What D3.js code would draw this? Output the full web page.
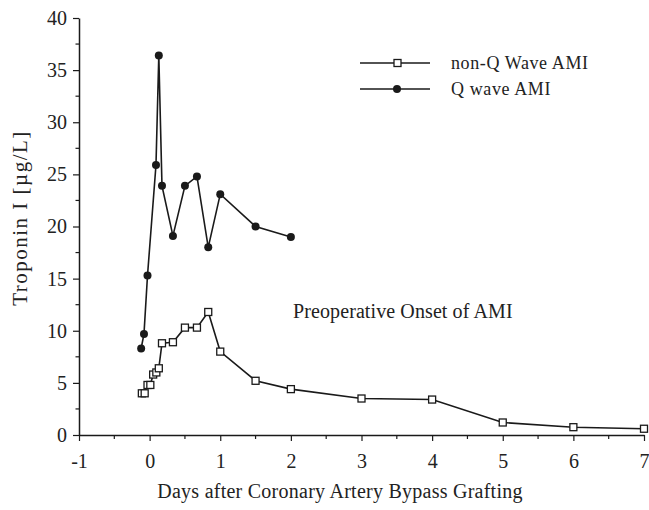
<!DOCTYPE html>
<html><head><meta charset="utf-8">
<script src="https://cdn.jsdelivr.net/npm/d3@7"></script>
<style>body{margin:0;background:#fff}svg{display:block}text{font-family:"Liberation Serif","Times New Roman",serif;fill:#222}</style>
</head><body><svg id="c" width="649" height="510"></svg>
<script>
const qDays = [-0.12,-0.08,-0.03,0.09,0.13,0.175,0.33,0.5,0.67,0.83,1.0,1.5,2.0];
const qValues = [8.3,9.7,15.3,25.9,36.4,23.9,19.1,23.9,24.8,18.0,23.1,20.0,19.0];
const nqDays = [-0.11,-0.07,-0.03,0.01,0.05,0.095,0.13,0.175,0.33,0.5,0.67,0.83,1.0,1.5,2.0,3.0,4.0,5.0,6.0,7.0];
const nqValues = [4.0,4.0,4.8,4.8,5.8,6.0,6.4,8.8,8.9,10.3,10.3,11.8,8.0,5.2,4.4,3.5,3.4,1.2,0.75,0.6];
const xTicks = [-1,0,1,2,3,4,5,6,7];
const yTicks = [0,5,10,15,20,25,30,35,40];
const seriesNames = ["non-Q Wave AMI","Q wave AMI"];

const svg = d3.select("#c");
const x = d3.scaleLinear().domain([-1,7]).range([79,644]);
const y = d3.scaleLinear().domain([0,40]).range([435,18]);
const col = "#1a1a1a";

// axes
const xAxis = svg.append("g").attr("transform","translate(0,435)")
  .call(d3.axisBottom(x).tickValues(xTicks).tickFormat(d=>String(d)).tickSize(6).tickSizeOuter(0).tickPadding(13));
const yAxis = svg.append("g").attr("transform","translate(79,0)")
  .call(d3.axisLeft(y).tickValues(yTicks).tickSize(6).tickSizeOuter(0).tickPadding(6));
[xAxis,yAxis].forEach(a=>{a.select(".domain").attr("stroke",col).attr("stroke-width",1.5);
  a.selectAll(".tick line").attr("stroke",col).attr("stroke-width",1.2);
  a.selectAll(".tick text").attr("font-size",20).attr("fill","#222");});
// minor ticks
const xMinor = d3.range(-0.5,7,1);
svg.append("g").selectAll("line").data(xMinor).join("line")
  .attr("x1",d=>x(d)).attr("x2",d=>x(d)).attr("y1",435).attr("y2",439).attr("stroke",col).attr("stroke-width",1.2);
const yMinor = d3.range(2.5,40,5);
svg.append("g").selectAll("line").data(yMinor).join("line")
  .attr("y1",d=>y(d)).attr("y2",d=>y(d)).attr("x1",79).attr("x2",75.5).attr("stroke",col).attr("stroke-width",1.2);

// labels
svg.append("text").attr("x",340).attr("y",498).attr("text-anchor","middle").attr("font-size",20).attr("letter-spacing",0.25)
  .text("Days after Coronary Artery Bypass Grafting");
svg.append("text").attr("transform","translate(27,218) rotate(-90)").attr("text-anchor","middle").attr("font-size",21).attr("letter-spacing",1.5)
  .text("Troponin I [µg/L]");
svg.append("text").attr("x",293).attr("y",318).attr("font-size",20).attr("letter-spacing",0.1).text("Preoperative Onset of AMI");

const line = d3.line().x(d=>x(d[0])).y(d=>y(d[1]));
const nq = nqDays.map((d,i)=>[d,nqValues[i]]);
const q = qDays.map((d,i)=>[d,qValues[i]]);
svg.append("path").datum(q).attr("d",line).attr("fill","none").attr("stroke",col).attr("stroke-width",1.6);
svg.append("path").datum(nq).attr("d",line).attr("fill","none").attr("stroke",col).attr("stroke-width",1.6);
svg.append("g").selectAll("circle").data(q).join("circle")
  .attr("cx",d=>x(d[0])).attr("cy",d=>y(d[1])).attr("r",4).attr("fill",col);
svg.append("g").selectAll("rect").data(nq).join("rect")
  .attr("x",d=>x(d[0])-3.5).attr("y",d=>y(d[1])-3.5).attr("width",7).attr("height",7)
  .attr("fill","#fff").attr("stroke",col).attr("stroke-width",1.3);

// legend
const lg = svg.append("g");
[0,1].forEach(i=>{
  const ly = 63 + i*26;
  lg.append("line").attr("x1",360).attr("x2",430).attr("y1",ly).attr("y2",ly).attr("stroke",col).attr("stroke-width",1.6);
  if(i===0) lg.append("rect").attr("x",394).attr("y",ly-3.5).attr("width",7).attr("height",7).attr("fill","#fff").attr("stroke",col).attr("stroke-width",1.3);
  else lg.append("circle").attr("cx",397).attr("cy",ly).attr("r",4).attr("fill",col);
  lg.append("text").attr("x",451).attr("y",ly+6).attr("font-size",18).attr("letter-spacing",0.6).text(seriesNames[i]);
});
</script></body></html>
